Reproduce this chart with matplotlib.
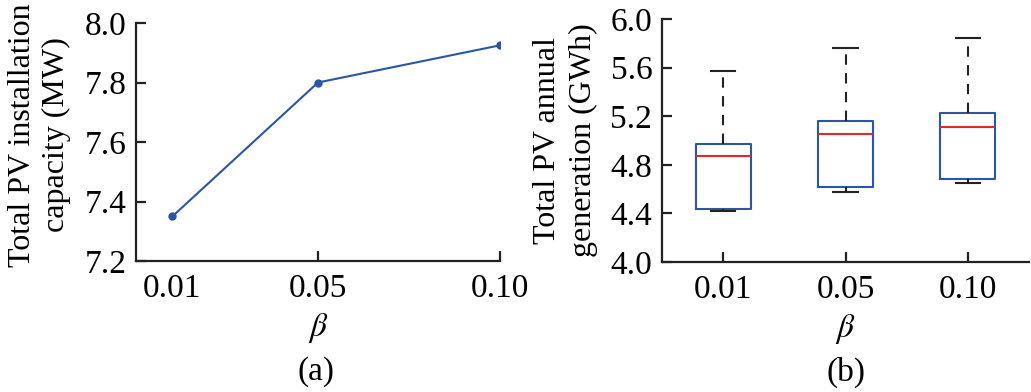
import matplotlib.pyplot as plt

plt.rcParams['font.family'] = ['Liberation Serif', 'DejaVu Serif']
plt.rcParams['mathtext.fontset'] = 'stix'

beta = [0.01, 0.05, 0.10]
beta_labels = ['0.01', '0.05', '0.10']
capacity = [7.35, 7.80, 7.925]

# box stats for annual generation (GWh)
gen_low = [4.42, 4.58, 4.65]
gen_q1 = [4.44, 4.62, 4.68]
gen_med = [4.87, 5.05, 5.11]
gen_q3 = [4.97, 5.16, 5.23]
gen_high = [5.57, 5.76, 5.84]

line_blue = '#2a56a3'
fs = 23
tfs = 24

fig = plt.figure(figsize=(10.31, 3.92), dpi=100)
ax1 = fig.add_axes([136/1031, 131/392, 364/1031, 238/392])
ax2 = fig.add_axes([662/1031, 130/392, 367/1031, 243/392])

# (a)
ax1.plot(beta, capacity, color=line_blue, lw=1.5, marker='o', ms=5)
ax1.set_xlim(0, 0.10)
ax1.set_ylim(7.2, 8.0)
ax1.set_xticks(beta)
ax1.set_xticklabels(beta_labels)
ax1.set_yticks([7.2, 7.4, 7.6, 7.8, 8.0])
ax1.set_yticklabels(['7.2', '7.4', '7.6', '7.8', '8.0'])
ax1.set_ylabel('Total PV installation\ncapacity (MW)', fontsize=fs, linespacing=1.25)
ax1.yaxis.set_label_coords(-0.178, 0.53)
ax1.set_xlabel('$\\beta$', fontsize=tfs, labelpad=5)
ax1.xaxis.get_major_ticks()[0].tick1line.set_visible(False)

# (b)
stats = []
for i in range(len(beta)):
    stats.append({'whislo': gen_low[i], 'q1': gen_q1[i], 'med': gen_med[i],
                  'q3': gen_q3[i], 'whishi': gen_high[i], 'fliers': []})
ax2.bxp(stats, positions=[1, 2, 3], widths=0.45, showfliers=False,
        boxprops=dict(color=line_blue, lw=1.5),
        medianprops=dict(color='#e0282e', lw=1.5),
        whiskerprops=dict(color='#222222', lw=1.5, linestyle=(0, (5, 4))),
        capprops=dict(color='#222222', lw=1.5), capwidths=0.2)
ax2.set_xlim(0.5, 3.5)
ax2.set_ylim(4.0, 6.0)
ax2.set_xticks([1, 2, 3])
ax2.set_xticklabels(beta_labels)
ax2.set_yticks([4.0, 4.4, 4.8, 5.2, 5.6, 6.0])
ax2.set_yticklabels(['4.0', '4.4', '4.8', '5.2', '5.6', '6.0'])
ax2.set_ylabel('Total PV annual\ngeneration (GWh)', fontsize=fs, linespacing=1.32)
ax2.yaxis.set_label_coords(-0.174, 0.5)
ax2.set_xlabel('$\\beta$', fontsize=tfs, labelpad=5)

for ax in (ax1, ax2):
    ax.spines['top'].set_visible(False)
    ax.spines['right'].set_visible(False)
    for s in ('left', 'bottom'):
        ax.spines[s].set_linewidth(1.6)
        ax.spines[s].set_color('#222222')
    ax.tick_params(direction='in', length=7, width=1.6, labelsize=tfs,
                   color='#222222')
    ax.tick_params(axis='x', pad=9)
    ax.tick_params(axis='y', pad=7)

fig.text(316/1031, 1 - 372/392, '(a)', fontsize=tfs, ha='center', va='center')
fig.text(846/1031, 1 - 372/392, '(b)', fontsize=tfs, ha='center', va='center')

fig.savefig('out.png', dpi=100)
